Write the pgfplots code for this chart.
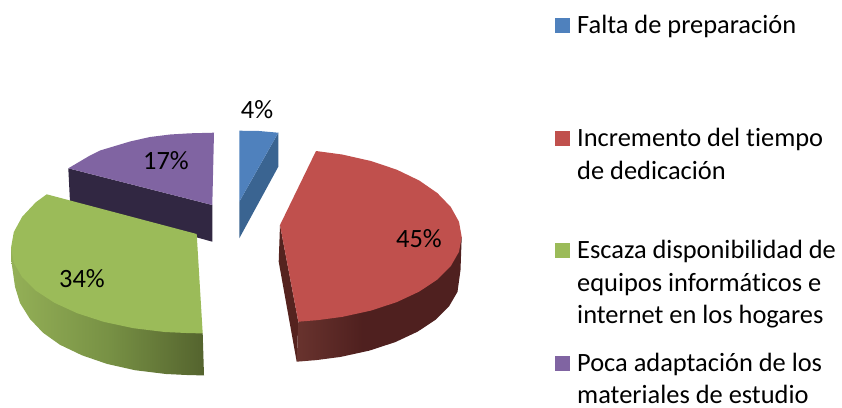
\documentclass[border=0pt]{standalone}
\usepackage{fontspec}
\setmainfont[Ligatures=NoCommon]{Carlito}
\usepackage{pgfplots}
\pgfplotsset{compat=1.18}
\definecolor{blueT}{HTML}{4F81BD}
\definecolor{blueS}{HTML}{3A6491}
\definecolor{redT}{HTML}{C0504D}
\definecolor{redS}{HTML}{55231F}
\definecolor{greenT}{HTML}{9BBB59}
\definecolor{purpT}{HTML}{8064A2}
\definecolor{purpS}{HTML}{312742}
\pgfdeclarehorizontalshading{gside}{100bp}{rgb(0bp)=(0.58,0.69,0.34);rgb(25bp)=(0.58,0.69,0.34);rgb(50bp)=(0.47,0.57,0.27);rgb(75bp)=(0.33,0.39,0.18);rgb(100bp)=(0.33,0.39,0.18)}
\pgfdeclarehorizontalshading{rside}{100bp}{rgb(0bp)=(0.41,0.20,0.18);rgb(25bp)=(0.41,0.20,0.18);rgb(45bp)=(0.31,0.125,0.12);rgb(100bp)=(0.31,0.125,0.12)}
\begin{document}
\begin{tikzpicture}
\begin{axis}[width=842pt,height=407pt,scale only axis,xmin=0,xmax=842,ymin=0,ymax=407,y dir=reverse,
  axis lines=none,clip=false,
  nodes={font=\fontsize{26.4}{31}\selectfont,text=black}]
\path (axis cs:0,0) rectangle (axis cs:842,407);
% blue slice
\addplot[fill=blueS,draw=none] coordinates {(278.3,132.7)(278.3,166.7)(239.3,238.3)(239.3,201.7)} --cycle;
\addplot[fill=blueT,draw=none] coordinates {(239.3,130.7)(259,131)(278.3,132.7)(239.3,201.7)} --cycle;
% purple slice
\addplot[fill=purpS,draw=none] coordinates {(68.3,168.3)(212.3,205)(212.3,241.7)(70,202)} --cycle;
\addplot[fill=purpT,draw=none] coordinates {(214,132.7)(212.3,205)(68.3,168.3)(80,161.4)(90,155.5)(100,150.5)(115,146)(130,141.5)(150,137)(170,134.5)(190,133.3)} --cycle;
% green slice
\addplot[shading=gside,draw=none] coordinates {(204,375.3)(191,375.2)(166,374)(135,370.2)(107,363.9)(82,355.3)(60,344.8)(43,332.7)(30,319)(20,303)(15,286.7)(11.5,262)(11,248)(100,280)(202.7,333.3)} --cycle;
\addplot[fill=greenT,draw=none] coordinates {(196.7,234)(202.7,333.3)(190.5,333.2)(164.7,332)(133.4,328.2)(104,321.9)(77.4,313.3)(54.5,302.8)(35.9,290.7)(22.2,277.2)(13.8,262.8)(11,248)(13.8,232.1)(22.2,216.7)(35.9,202.2)(46.7,194.3)} --cycle;
% red slice
\addplot[fill=redS,draw=none] coordinates {(280,225)(278.7,261.7)(296.7,361.7)(298.3,321.7)} --cycle;
\addplot[shading=rside,draw=none] coordinates {(298.3,321.7)(296.7,361.7)(316.3,360.1)(340.6,356.9)(369.4,350.6)(395.3,342.1)(417.7,331.6)(435.9,319.5)(449.2,306.1)(457.5,291.8)(460.5,270)(461.7,237)(340,300)} --cycle;
\addplot[fill=redT,draw=none] coordinates {(316,151)(280,225)(298.3,321.7)(317.8,320.1)(342.1,316.9)(370.9,310.6)(396.8,302.1)(419.2,291.6)(437.4,279.5)(450.8,266.1)(459,251.8)(461.7,237)(459,221.8)(450.8,207)(437.4,193.1)(419.2,180.5)(396.8,169.7)(370.9,161)(342.1,154.5)} --cycle;
% legend keys
\addplot[fill=blueT,draw=none] coordinates {(555,18)(570,18)(570,33)(555,33)} --cycle;
\addplot[fill=redT,draw=none] coordinates {(555,131)(570,131)(570,146)(555,146)} --cycle;
\addplot[fill=greenT,draw=none] coordinates {(555,243)(570,243)(570,258)(555,258)} --cycle;
\addplot[fill=purpT,draw=none] coordinates {(555,356)(570,356)(570,371)(555,371)} --cycle;
% value labels
\node at (axis cs:257,110) {4\%};
\node at (axis cs:419,239) {45\%};
\node at (axis cs:82,279) {34\%};
\node at (axis cs:166,161) {17\%};
% legend text
\node[anchor=base west,inner sep=0pt] at (axis cs:577,33) {Falta de preparación};
\node[anchor=base west,inner sep=0pt] at (axis cs:577,146.7) {Incremento del tiempo};
\node[anchor=base west,inner sep=0pt] at (axis cs:577,179) {de dedicación};
\node[anchor=base west,inner sep=0pt] at (axis cs:577,258) {Escaza disponibilidad de};
\node[anchor=base west,inner sep=0pt] at (axis cs:577,291) {equipos informáticos e};
\node[anchor=base west,inner sep=0pt] at (axis cs:577,323) {internet en los hogares};
\node[anchor=base west,inner sep=0pt] at (axis cs:577,371) {Poca adaptación de los};
\node[anchor=base west,inner sep=0pt] at (axis cs:577,403) {materiales de estudio};
\end{axis}
\end{tikzpicture}
\end{document}
